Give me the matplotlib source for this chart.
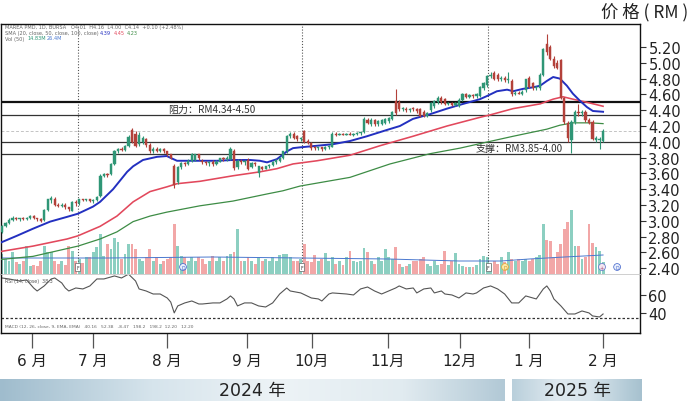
import matplotlib
matplotlib.use("Agg")
import matplotlib.pyplot as plt
import numpy as np
from matplotlib.colors import LinearSegmentedColormap

plt.rcParams['font.family'] = ['DejaVu Sans', 'Noto Sans CJK SC']
CJK = ['Noto Sans CJK SC', 'DejaVu Sans']

# ---------------- data ----------------
open_ = [2.86, 2.93, 2.97, 3.01, 3.04, 3.02, 3.03, 3.02, 3.04, 3.06,
         3.03, 3.02, 3.01, 3.14, 3.26, 3.28, 3.20, 3.19, 3.20, 3.17,
         3.13, 3.24, 3.22, 3.27, 3.26, 3.27, 3.25, 3.26, 3.31, 3.57,
         3.59, 3.59, 3.72, 3.88, 3.91, 3.90, 3.95, 4.15, 4.10, 3.97,
         4.00, 4.03, 3.96, 3.88, 3.91, 3.89, 3.91, 3.88, 3.84, 3.70,
         3.49, 3.68, 3.73, 3.72, 3.76, 3.77, 3.84, 3.76, 3.74, 3.73,
         3.75, 3.72, 3.75, 3.79, 3.78, 3.78, 3.89, 3.68, 3.76, 3.74,
         3.77, 3.68, 3.73, 3.61, 3.68, 3.66, 3.69, 3.71, 3.74, 3.76,
         3.79, 3.88, 4.07, 4.10, 4.07, 4.03, 4.14, 4.01, 3.99, 3.93,
         3.92, 3.93, 3.91, 3.93, 3.94, 4.10, 4.09, 4.10, 4.09, 4.10,
         4.09, 4.10, 4.11, 4.12, 4.28, 4.22, 4.28, 4.22, 4.23, 4.24,
         4.26, 4.29, 4.52, 4.50, 4.41, 4.42, 4.40, 4.42, 4.41, 4.41,
         4.38, 4.33, 4.40, 4.45, 4.50, 4.56, 4.54, 4.48, 4.49, 4.47,
         4.45, 4.53, 4.60, 4.57, 4.59, 4.58, 4.58, 4.68, 4.72, 4.83,
         4.87, 4.85, 4.79, 4.81, 4.78, 4.77, 4.60, 4.62, 4.61, 4.65,
         4.81, 4.74, 4.68, 4.68, 4.85, 5.24, 5.20, 5.05, 5.00, 5.03,
         4.55, 4.24, 4.02, 4.25, 4.38, 4.36, 4.38, 4.28, 4.25, 4.02,
         4.02, 4.01]
high = [2.95, 2.98, 3.03, 3.06, 3.05, 3.04, 3.05, 3.05, 3.07, 3.07,
        3.04, 3.03, 3.15, 3.28, 3.31, 3.30, 3.23, 3.22, 3.22, 3.18,
        3.25, 3.26, 3.28, 3.28, 3.28, 3.28, 3.27, 3.31, 3.59, 3.60,
        3.60, 3.73, 3.90, 3.92, 3.93, 3.96, 4.08, 4.17, 4.14, 4.12,
        4.07, 4.05, 3.98, 3.93, 3.93, 3.92, 3.92, 3.89, 3.85, 3.72,
        3.70, 3.75, 3.75, 3.78, 3.86, 3.85, 3.85, 3.78, 3.76, 3.76,
        3.77, 3.77, 3.80, 3.81, 3.82, 3.93, 3.91, 3.78, 3.78, 3.77,
        3.79, 3.75, 3.75, 3.70, 3.70, 3.70, 3.72, 3.76, 3.78, 3.81,
        3.89, 4.09, 4.12, 4.12, 4.09, 4.06, 4.15, 4.03, 4.00, 3.95,
        3.94, 3.94, 3.95, 3.96, 4.12, 4.12, 4.11, 4.11, 4.11, 4.12,
        4.11, 4.12, 4.13, 4.31, 4.30, 4.30, 4.29, 4.27, 4.29, 4.30,
        4.31, 4.39, 4.67, 4.53, 4.44, 4.44, 4.43, 4.44, 4.43, 4.43,
        4.40, 4.38, 4.51, 4.53, 4.58, 4.58, 4.56, 4.51, 4.51, 4.50,
        4.55, 4.62, 4.62, 4.61, 4.61, 4.62, 4.71, 4.76, 4.85, 4.88,
        4.89, 4.87, 4.83, 4.83, 4.88, 4.79, 4.64, 4.64, 4.65, 4.80,
        4.83, 4.76, 4.71, 4.87, 5.19, 5.36, 5.22, 5.08, 5.03, 5.05,
        4.57, 4.26, 4.27, 4.40, 4.48, 4.40, 4.40, 4.30, 4.27, 4.07,
        4.06, 4.16]
low = [2.84, 2.92, 2.96, 3.00, 3.01, 3.00, 3.01, 3.01, 3.02, 3.02,
       3.00, 2.99, 3.00, 3.12, 3.22, 3.19, 3.17, 3.17, 3.15, 3.13,
       3.12, 3.19, 3.20, 3.25, 3.25, 3.24, 3.23, 3.25, 3.30, 3.56,
       3.56, 3.58, 3.71, 3.86, 3.88, 3.89, 3.93, 3.98, 3.93, 3.95,
       3.97, 3.94, 3.86, 3.86, 3.87, 3.87, 3.86, 3.82, 3.78, 3.42,
       3.47, 3.66, 3.70, 3.71, 3.75, 3.76, 3.77, 3.72, 3.71, 3.70,
       3.70, 3.71, 3.74, 3.76, 3.76, 3.77, 3.64, 3.66, 3.72, 3.71,
       3.64, 3.67, 3.70, 3.55, 3.64, 3.65, 3.67, 3.70, 3.72, 3.75,
       3.78, 3.86, 4.05, 4.03, 4.01, 4.01, 3.98, 3.97, 3.90, 3.90,
       3.90, 3.89, 3.90, 3.91, 3.93, 4.07, 4.08, 4.08, 4.08, 4.08,
       4.07, 4.08, 4.09, 4.11, 4.22, 4.20, 4.20, 4.20, 4.21, 4.22,
       4.24, 4.28, 4.34, 4.39, 4.39, 4.38, 4.38, 4.39, 4.37, 4.31,
       4.31, 4.31, 4.38, 4.43, 4.48, 4.48, 4.46, 4.46, 4.45, 4.45,
       4.44, 4.52, 4.55, 4.55, 4.56, 4.56, 4.57, 4.66, 4.70, 4.81,
       4.78, 4.77, 4.77, 4.76, 4.75, 4.58, 4.59, 4.60, 4.59, 4.63,
       4.68, 4.66, 4.66, 4.66, 4.83, 5.10, 5.03, 4.93, 4.92, 4.54,
       4.22, 4.00, 3.86, 4.23, 4.33, 4.33, 4.25, 4.22, 4.02, 4.00,
       3.91, 4.00]
close = [2.93, 2.97, 3.01, 3.04, 3.02, 3.03, 3.02, 3.04, 3.06, 3.03,
         3.02, 3.00, 3.14, 3.27, 3.29, 3.20, 3.19, 3.20, 3.17, 3.15,
         3.24, 3.22, 3.27, 3.26, 3.27, 3.25, 3.26, 3.30, 3.57, 3.59,
         3.58, 3.72, 3.88, 3.91, 3.90, 3.95, 4.06, 4.00, 3.95, 4.08,
         4.05, 3.96, 3.88, 3.91, 3.89, 3.91, 3.88, 3.84, 3.80, 3.45,
         3.68, 3.73, 3.72, 3.76, 3.84, 3.84, 3.79, 3.74, 3.73, 3.75,
         3.72, 3.75, 3.79, 3.78, 3.80, 3.91, 3.67, 3.76, 3.74, 3.75,
         3.66, 3.73, 3.72, 3.69, 3.66, 3.69, 3.71, 3.74, 3.77, 3.80,
         3.88, 4.07, 4.10, 4.05, 4.03, 4.04, 4.00, 3.99, 3.92, 3.92,
         3.93, 3.91, 3.93, 3.94, 4.10, 4.09, 4.10, 4.09, 4.10, 4.09,
         4.10, 4.11, 4.12, 4.29, 4.24, 4.28, 4.22, 4.26, 4.27, 4.29,
         4.30, 4.38, 4.36, 4.41, 4.42, 4.40, 4.42, 4.41, 4.39, 4.33,
         4.33, 4.36, 4.49, 4.52, 4.56, 4.50, 4.48, 4.49, 4.47, 4.49,
         4.53, 4.60, 4.57, 4.59, 4.58, 4.61, 4.70, 4.74, 4.83, 4.85,
         4.80, 4.79, 4.81, 4.78, 4.79, 4.60, 4.62, 4.61, 4.63, 4.79,
         4.70, 4.68, 4.69, 4.85, 5.17, 5.14, 5.05, 4.96, 4.94, 4.56,
         4.25, 4.05, 4.25, 4.38, 4.36, 4.38, 4.27, 4.24, 4.04, 4.05,
         4.04, 4.14]
volume = [20, 15, 13, 22, 12, 10, 13, 28, 8, 9,
          8, 13, 28, 22, 22, 13, 10, 13, 9, 28,
          23, 13, 15, 11, 17, 17, 22, 27, 40, 18,
          30, 25, 36, 32, 15, 20, 30, 30, 25, 15,
          13, 17, 25, 13, 17, 10, 13, 15, 17, 50,
          28, 18, 17, 13, 17, 13, 17, 15, 10, 13,
          18, 13, 17, 13, 18, 20, 22, 45, 13, 13,
          17, 13, 10, 17, 13, 15, 13, 17, 13, 19,
          20, 20, 17, 13, 13, 15, 30, 13, 12, 19,
          13, 15, 21, 13, 17, 10, 13, 9, 17, 23,
          13, 12, 13, 26, 22, 13, 10, 17, 13, 25,
          17, 15, 27, 10, 7, 8, 10, 13, 13, 15,
          17, 10, 8, 13, 9, 10, 23, 9, 13, 21,
          10, 8, 7, 7, 7, 9, 15, 18, 17, 10,
          13, 10, 17, 12, 22, 15, 13, 15, 13, 15,
          13, 15, 17, 19, 50, 34, 33, 17, 22, 30,
          45, 52, 64, 28, 28, 15, 17, 50, 31, 27,
          23, 12]

# moving averages, read at sample days
ma20_day = [-0.6, 4.2, 8.8, 13.7, 18.5, 21.6, 25.9, 27.9, 31.6, 35.6, 37.3, 40.1, 44.1,
            46.9, 47.8, 49.8, 52.6, 56.3, 61.2, 65.7, 70.6, 73.4, 75.4, 78.2, 81.1, 82.8,
            84.8, 89.6, 94.2, 99.0, 103.8, 109.5, 113.2, 116.9, 121.8, 126.6, 131.2,
            136.0, 138.0, 140.8, 143.7, 145.4, 148.2, 151.1, 153.1, 155.0, 156.8, 158.7,
            160.7, 162.4, 164.4, 166.4, 168.1, 171.0]
ma20_val = [2.72, 2.81, 2.90, 2.99, 3.05, 3.09, 3.18, 3.24, 3.40, 3.62, 3.69, 3.77, 3.81,
            3.82, 3.80, 3.76, 3.76, 3.76, 3.76, 3.77, 3.77, 3.76, 3.74, 3.78, 3.88, 3.92,
            3.93, 3.95, 3.97, 4.01, 4.07, 4.15, 4.20, 4.29, 4.35, 4.42, 4.48,
            4.54, 4.58, 4.64, 4.66, 4.64, 4.67, 4.69, 4.71, 4.77, 4.82, 4.80,
            4.71, 4.61, 4.52, 4.44, 4.39, 4.38]
ma50_day = [-0.6, 8.8, 18.5, 21.6, 27.9, 32.7, 37.3, 42.1, 46.9, 49.8, 56.3, 65.7, 73.4,
            78.2, 82.8, 89.6, 99.0, 107.5, 116.9, 126.6, 136.0, 138.8, 145.4, 153.1,
            156.8, 159.6, 162.4, 166.4, 171.0]
ma50_val = [2.61, 2.68, 2.77, 2.81, 2.93, 3.06, 3.24, 3.37, 3.43, 3.47, 3.50, 3.57, 3.62,
            3.66, 3.72, 3.76, 3.83, 3.95, 4.07, 4.20, 4.31, 4.34, 4.42, 4.48,
            4.54, 4.57, 4.54, 4.50, 4.45]
ma100_day = [-0.6, 8.8, 21.6, 27.9, 32.7, 37.3, 42.1, 46.9, 56.3, 65.7, 75.4, 79.9, 84.8,
             99.0, 110.4, 121.8, 130.3, 138.3, 145.4, 155.0, 158.7, 162.4, 167.3, 171.0]
ma100_val = [2.51, 2.55, 2.68, 2.77, 2.86, 2.99, 3.06, 3.11, 3.19, 3.25, 3.34, 3.38, 3.44,
             3.55, 3.72, 3.85, 3.92, 4.00, 4.07, 4.16, 4.21, 4.24, 4.24, 4.23]
volma_day = [0, 30, 60, 85, 110, 130, 142, 150, 160, 171]
volma_val = [16, 16, 17, 16, 15, 13, 13, 15, 17, 19]

rsi_day = [0, 2, 5, 7, 9, 10, 12, 14, 15, 17, 18, 19, 21, 23, 25, 27, 29, 32, 34, 36,
           38, 39, 41, 43, 45, 47, 48, 49, 50, 52, 54, 56, 57, 60, 62, 64, 65, 66, 67, 69,
           71, 73, 75, 77, 79, 81, 82, 85, 88, 90, 91, 93, 94, 98, 100, 102, 104, 106, 108,
           110, 112, 113, 115, 117, 118, 120, 122, 123, 125, 126, 128, 130, 132, 134, 135,
           137, 139, 141, 143, 145, 147, 149, 152, 154, 155, 156, 157, 159, 161, 163, 165,
           167, 168, 170, 171]
rsi_val = [79.2, 78.1, 75.8, 77.0, 67.9, 64.5, 70.2, 78.1, 79.2, 73.6, 67.9, 64.5, 67.9,
           66.8, 70.2, 78.1, 78.1, 81.5, 79.2, 83.5, 75.8, 66.8, 64.5, 61.1, 61.1, 56.6,
           52.0, 39.7, 47.6, 51.0, 53.2, 49.8, 49.8, 51.0, 51.0, 55.5, 58.9, 55.5, 47.6,
           51.0, 51.0, 47.6, 46.4, 51.0, 61.1, 67.9, 64.5, 62.3, 56.6, 55.5, 53.2, 61.1,
           62.3, 61.1, 60.0, 66.8, 69.0, 64.5, 61.1, 64.5, 67.9, 70.2, 66.8, 67.9, 62.3,
           66.8, 67.9, 62.3, 64.5, 61.1, 60.0, 56.6, 62.3, 61.1, 62.3, 67.9, 70.2, 66.8,
           61.1, 51.0, 51.0, 58.9, 55.5, 66.8, 70.2, 64.5, 55.5, 47.6, 38.5, 38.5, 41.9,
           39.7, 36.3, 35.1, 38.5]

price_ticks = [2.40, 2.60, 2.80, 3.00, 3.20, 3.40, 3.60, 3.80, 4.00, 4.20, 4.40,
               4.60, 4.80, 5.00, 5.20]
rsi_ticks = [40, 60]
month_pos = [8.5, 25.9, 46.9, 69.7, 88.2, 109.8, 130.3, 149.9, 171.0]
month_labels = ['6 月', '7 月', '8 月', '9 月', '10月', '11月', '12月', '1 月', '2 月']
resist_lo, resist_hi = 4.34, 4.50
support_lo, support_hi = 3.85, 4.00
last_close = 4.14
event_days = [21.6, 85.3, 138.3]

# ---------------- figure ----------------
W, H = 690, 402
fig = plt.figure(figsize=(6.9, 4.02), dpi=100)
fx = lambda px: px / W
fy = lambda py: 1 - py / H

ax = fig.add_axes([fx(1), fy(275), fx(640) - fx(1), fy(25) - fy(275)])
axv = ax.twinx()
axr = fig.add_axes([fx(1), fy(334), fx(640) - fx(1), fy(275) - fy(334)], sharex=ax)

ax.set_zorder(axv.get_zorder() + 1)
ax.patch.set_visible(False)

n = len(close)
days = np.arange(n)
o = np.array(open_); c = np.array(close); hi = np.array(high); lo = np.array(low)
up = c >= o
UP, DN = '#2f9676', '#b3413a'
ccol = np.where(up, UP, DN)

# volume
vcol = np.where(up, '#8ccfc1', '#f2a7a7')
axv.bar(days, volume, width=0.82, color=vcol, linewidth=0)
axv.plot(volma_day, volma_val, color='#4a78cf', lw=0.7)
axv.set_ylim(0, 250)
axv.axis('off')

# candles
ax.vlines(days, lo, hi, colors=ccol, lw=0.8, zorder=4)
bh = np.maximum(np.abs(c - o), 0.012)
ax.bar(days, bh, bottom=np.minimum(o, c), width=0.62, color=ccol,
       edgecolor=ccol, linewidth=0.3, zorder=5)

# moving averages
ax.plot(ma100_day, ma100_val, color='#3d8c45', lw=0.9, zorder=3)
ax.plot(ma50_day, ma50_val, color='#e2485c', lw=1.15, zorder=3)
ax.plot(ma20_day, ma20_val, color='#2330c0', lw=1.4, zorder=3)

# support / resistance lines
ax.axhline(resist_hi, color='#111111', lw=1.6, zorder=2)
ax.axhline(resist_lo, color='#333333', lw=0.9, zorder=2)
ax.axhline(support_hi, color='#333333', lw=0.9, zorder=2)
ax.axhline(support_lo, color='#333333', lw=0.9, zorder=2)
ax.axhline(last_close, color='#c4c4c4', lw=0.7, ls=(0, (3, 2)), zorder=1)
for d in event_days:
    ax.axvline(d, ymin=0.03, ymax=1, color='#555555', lw=0.8, ls=(0, (1, 1.6)), zorder=1)

ax.text(59.7, 4.415, '阻力：RM4.34-4.50', family=CJK, fontsize=7.2, color='#333333',
        ha='center', va='center', zorder=6)
ax.text(147.1, 3.925, '支撑：RM3.85-4.00', family=CJK, fontsize=7.2, color='#333333',
        ha='center', va='center', zorder=6)

# small event icons
xt = ax.get_xaxis_transform()
for d in event_days:
    ax.text(d, 0.028, 'F', transform=xt, fontsize=3.3, ha='center', va='center', color='#333',
            bbox=dict(boxstyle='square,pad=0.25', fc='white', ec='#666', lw=0.5), zorder=7)
ax.text(51.5, 0.028, 'D', transform=xt, fontsize=3.3, ha='center', va='center', color='#3b5fc9',
        bbox=dict(boxstyle='circle,pad=0.2', fc='#e8eefc', ec='#3b5fc9', lw=0.5), zorder=7)
ax.text(143.1, 0.028, 'D', transform=xt, fontsize=3.3, ha='center', va='center', color='#c98a1a',
        bbox=dict(boxstyle='circle,pad=0.2', fc='#fbe9a8', ec='#e0a530', lw=0.5), zorder=7)
ax.text(170.7, 0.028, '+', transform=xt, fontsize=3.5, ha='center', va='center', color='#a04070',
        bbox=dict(boxstyle='circle,pad=0.2', fc='#f3e6f0', ec='#5a6fc9', lw=0.5), zorder=7)
ax.text(175.0, 0.028, 'D', transform=xt, fontsize=3.3, ha='center', va='center', color='#3b5fc9',
        bbox=dict(boxstyle='circle,pad=0.2', fc='#e8eefc', ec='#3b5fc9', lw=0.5), zorder=7)

ax.set_xlim((1 - 2) / 3.515, (640 - 2) / 3.515)
ax.set_ylim(2.327, 5.491)

ax.yaxis.tick_right()
ax.set_yticks(price_ticks)
ax.set_yticklabels(['%.2f' % v for v in price_ticks])
ax.tick_params(axis='y', direction='out', length=4, width=0.8, color='#333',
               labelsize=10.5, pad=2, labelcolor='#222')
ax.tick_params(axis='x', bottom=False, labelbottom=False)
for s in ['top', 'right', 'left']:
    ax.spines[s].set_color('#111'); ax.spines[s].set_linewidth(1.0)
ax.spines['bottom'].set_color('#cfcfcf'); ax.spines['bottom'].set_linewidth(0.6)

# RSI panel
axr.plot(rsi_day, rsi_val, color='#555555', lw=0.8)
axr.axhline(34, color='#333333', lw=0.9, ls=(0, (2, 1.6)))
axr.set_ylim(17.0, 83.7)
axr.yaxis.tick_right()
axr.set_yticks(rsi_ticks)
axr.set_yticklabels([str(v) for v in rsi_ticks])
axr.tick_params(axis='y', direction='out', length=4, width=0.8, color='#333',
                labelsize=10.5, pad=2, labelcolor='#222')
axr.set_xticks(month_pos)
axr.set_xticklabels(month_labels)
axr.tick_params(axis='x', direction='out', length=10.5, width=0.9, color='#555',
                labelsize=11, pad=4, labelcolor='#222')
for s in ['bottom', 'right', 'left']:
    axr.spines[s].set_color('#111'); axr.spines[s].set_linewidth(1.0)
axr.spines['top'].set_color('#cfcfcf'); axr.spines['top'].set_linewidth(0.6)
axr.text(0.006, 0.93, 'RSI (14, close)  38.3', transform=axr.transAxes, fontsize=3.4,
         color='#555', va='top')
axr.text(0.006, 0.12, 'MACD (12, 26, close, 9, EMA, EMA)   40.16   52.38   -8.47   198.2   198.2  12.20   12.20',
         transform=axr.transAxes, fontsize=3.2, color='#666', va='center')

# legend-like header text
fig.text(fx(5), fy(28), 'MAREA PMD, 1D, BURSA   O4.01  H4.16  L4.00  C4.14  +0.10 (+2.48%)',
         fontsize=3.6, color='#666', va='center')
fig.text(fx(5), fy(33.5), 'SMA (20, close, 50, close, 100, close)', fontsize=3.6, color='#666', va='center')
fig.text(fx(100), fy(33.5), '4.39', fontsize=3.6, color='#2330c0', va='center')
fig.text(fx(114), fy(33.5), '4.45', fontsize=3.6, color='#e2485c', va='center')
fig.text(fx(127), fy(33.5), '4.23', fontsize=3.6, color='#3d8c45', va='center')
fig.text(fx(5), fy(39), 'Vol (50)', fontsize=3.6, color='#666', va='center')
fig.text(fx(27), fy(39), '14.83M', fontsize=3.6, color='#2f9676', va='center')
fig.text(fx(47), fy(39), '26.4M', fontsize=3.6, color='#4a78cf', va='center')

# title
fig.text(fx(688), fy(12), '价 格 ( RM )', family=CJK, fontsize=12.5, color='#222',
         ha='right', va='center')

# year bars
def year_bar(x0, x1, cols, stops, label, cx):
    a = fig.add_axes([fx(x0), 0, fx(x1) - fx(x0), 22 / H])
    cmap = LinearSegmentedColormap.from_list('g', list(zip(stops, cols)))
    a.imshow(np.linspace(0, 1, 256)[None, :], aspect='auto', cmap=cmap, extent=(0, 1, 0, 1))
    a.set_axis_off()
    fig.text(fx(cx), fy(391), label, family=['DejaVu Sans', 'Noto Sans CJK SC'],
             fontsize=12.5, color='#222', ha='center', va='center')

year_bar(0, 505, ['#9fbccd', '#d6e4ec', '#edf3f6', '#e1ebf0', '#b2c9d6'],
         [0, 0.3, 0.55, 0.8, 1.0], '2024 年', 252)
year_bar(512, 642, ['#b9cfdb', '#dfe9ef', '#d8e5ec', '#a6c1cf'],
         [0, 0.35, 0.6, 1.0], '2025 年', 577)

fig.savefig('out.png', dpi=100)
